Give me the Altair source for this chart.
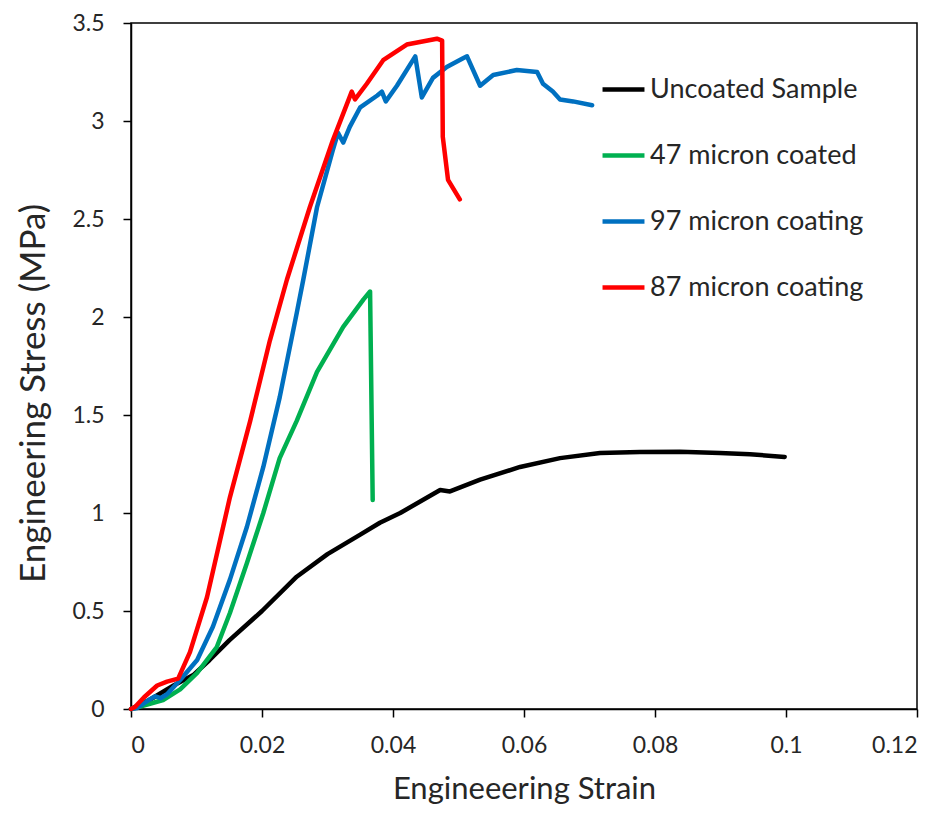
import altair as alt
import pandas as pd

series_names = ["Uncoated Sample", "47 micron coated", "97 micron coating", "87 micron coating"]
series_colors = ["#000000", "#00b050", "#0070c0", "#ff0000"]

x_ticks = [0, 0.02, 0.04, 0.06, 0.08, 0.1, 0.12]
y_ticks = [0, 0.5, 1, 1.5, 2, 2.5, 3, 3.5]

uncoated_strain = [0, 0.003, 0.0065, 0.0095, 0.012, 0.015, 0.02, 0.0253, 0.03, 0.035, 0.038,
                   0.0411, 0.0472, 0.0487, 0.0533, 0.0594, 0.0655, 0.0716, 0.0777, 0.0838,
                   0.0899, 0.0945, 0.0998]
uncoated_stress = [0, 0.05, 0.12, 0.173, 0.25, 0.35, 0.50, 0.675, 0.79, 0.89, 0.95,
                   1.00, 1.117, 1.11, 1.17, 1.235, 1.28, 1.306, 1.311, 1.312,
                   1.306, 1.30, 1.286]

c47_strain = [0, 0.0006, 0.0049, 0.0075, 0.0101, 0.0131, 0.0151, 0.0177, 0.0202, 0.0227,
              0.0253, 0.0284, 0.0324, 0.0355, 0.0365, 0.0369]
c47_stress = [0, 0.005, 0.046, 0.10, 0.184, 0.316, 0.49, 0.745, 1.00, 1.28,
              1.47, 1.72, 1.95, 2.09, 2.13, 1.066]

c97_strain = [0, 0.0009, 0.0029, 0.0037, 0.0045, 0.0055, 0.0075, 0.0101, 0.0125, 0.0151,
              0.0177, 0.0202, 0.0227, 0.0253, 0.0263, 0.0284, 0.0308, 0.0316, 0.0324,
              0.0334, 0.035, 0.0376, 0.0383, 0.0389, 0.0406, 0.0434, 0.0444, 0.0461,
              0.0482, 0.0507, 0.0513, 0.0533, 0.0553, 0.0589, 0.062, 0.0629, 0.0644,
              0.0655, 0.0675, 0.0704]
c97_stress = [0, 0.005, 0.05, 0.065, 0.055, 0.075, 0.148, 0.25, 0.42, 0.66,
              0.93, 1.235, 1.59, 2.02, 2.19, 2.56, 2.85, 2.94, 2.89,
              2.97, 3.07, 3.13, 3.15, 3.10, 3.18, 3.33, 3.12, 3.22,
              3.275, 3.32, 3.33, 3.18, 3.235, 3.26, 3.25, 3.19, 3.15,
              3.11, 3.10, 3.08]

c87_strain = [0, 0.0006, 0.002, 0.004, 0.0055, 0.0072, 0.009, 0.0116, 0.0151, 0.0182,
              0.0212, 0.0238, 0.0273, 0.0308, 0.0337, 0.0342, 0.036, 0.0385, 0.0421,
              0.0467, 0.0475, 0.0476, 0.0484, 0.0502]
c87_stress = [0, 0.01, 0.06, 0.12, 0.14, 0.155, 0.29, 0.57, 1.08, 1.47,
              1.88, 2.19, 2.56, 2.90, 3.15, 3.11, 3.19, 3.31, 3.39,
              3.42, 3.41, 2.92, 2.70, 2.60]

rows = []
for name, xs, ys in zip(series_names,
                        [uncoated_strain, c47_strain, c97_strain, c87_strain],
                        [uncoated_stress, c47_stress, c97_stress, c87_stress]):
    for i, (x, y) in enumerate(zip(xs, ys)):
        rows.append({"series": name, "strain": x, "stress": y, "idx": i})
df = pd.DataFrame(rows)

FONT = "Lato"
TXT = "#262626"

chart = alt.Chart(df).mark_line(strokeWidth=4.5, strokeCap="round", strokeJoin="round").encode(
    x=alt.X("strain:Q",
            scale=alt.Scale(domain=[0, 0.12], nice=False, zero=True),
            axis=alt.Axis(title="Engineeering Strain", values=x_ticks,
                          labelExpr="'' + datum.value",
                          grid=False, tickSize=8, labelPadding=17, titlePadding=17,
                          titleFontSize=31)),
    y=alt.Y("stress:Q",
            scale=alt.Scale(domain=[0, 3.5], nice=False),
            axis=alt.Axis(title="Engineering Stress (MPa)", values=y_ticks,
                          labelExpr="'' + datum.value",
                          grid=False, tickSize=8, labelPadding=19,
                          titleX=-80, titleY=370,
                          titleFontSize=35)),
    color=alt.Color("series:N",
                    scale=alt.Scale(domain=series_names, range=series_colors),
                    legend=alt.Legend(title=None, orient="none", legendX=469, legendY=43,
                                      symbolType="stroke", symbolSize=1760,
                                      symbolStrokeWidth=4.5, labelOffset=3,
                                      rowPadding=29, labelFontSize=27, labelFont=FONT,
                                      labelColor=TXT, padding=0, labelLimit=400)),
    detail="series:N",
    order="idx:Q",
).properties(
    width=786, height=686,
    autosize=alt.AutoSizeParams(type="none"),
    padding={"left": 123, "top": 15, "right": 22, "bottom": 99},
).configure_view(
    stroke="black", strokeWidth=1.5
).configure_axis(
    domainColor="black", domainWidth=1.5, tickColor="black", tickWidth=1.5,
    labelFont=FONT, labelFontSize=23, labelColor=TXT,
    titleFont=FONT, titleColor=TXT, titleFontWeight="normal",
)

chart.save("out.html", embed_options={"renderer": "svg", "actions": False})
